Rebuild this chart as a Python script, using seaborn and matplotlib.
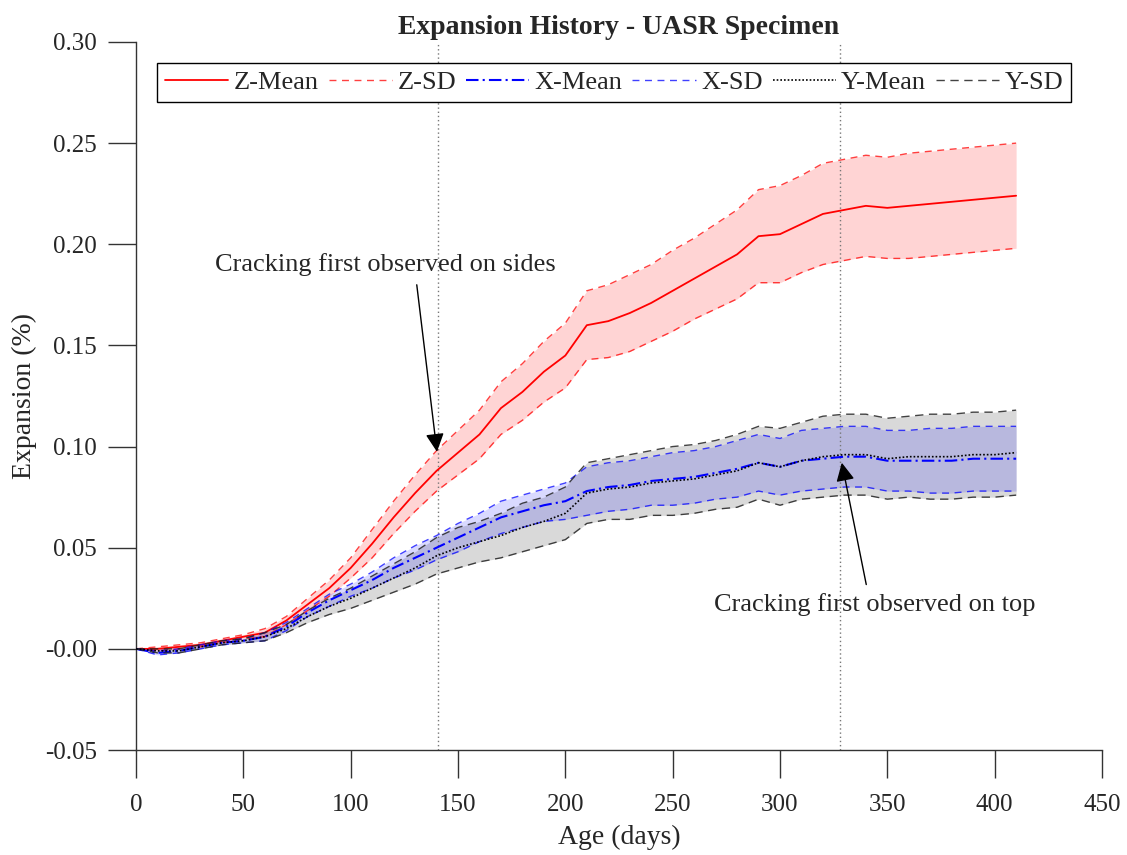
import numpy as np
import pandas as pd
import seaborn as sns
import matplotlib
matplotlib.use("Agg")
import matplotlib.pyplot as plt

days = list(range(0, 420, 10))

z_mean = [0.000, 0.000, 0.001, 0.002, 0.004, 0.006, 0.008, 0.014, 0.022, 0.030,
          0.040, 0.052, 0.065, 0.077, 0.088, 0.097, 0.106, 0.119, 0.127, 0.137,
          0.145, 0.160, 0.162, 0.166, 0.171, 0.177, 0.183, 0.189, 0.195, 0.204,
          0.205, 0.210, 0.215, 0.217, 0.219, 0.218, 0.219, 0.220, 0.221, 0.222,
          0.223, 0.224]
z_sd = [0.000, 0.001, 0.001, 0.001, 0.001, 0.001, 0.002, 0.002, 0.003, 0.004,
        0.005, 0.007, 0.008, 0.009, 0.010, 0.011, 0.012, 0.013, 0.014, 0.015,
        0.016, 0.017, 0.018, 0.019, 0.019, 0.020, 0.020, 0.021, 0.022, 0.023,
        0.024, 0.024, 0.025, 0.025, 0.025, 0.025, 0.026, 0.026, 0.026, 0.026,
        0.026, 0.026]
x_mean = [0.000, -0.002, -0.001, 0.001, 0.003, 0.004, 0.006, 0.011, 0.018, 0.024,
          0.029, 0.034, 0.040, 0.045, 0.050, 0.055, 0.060, 0.065, 0.068, 0.071,
          0.073, 0.078, 0.080, 0.081, 0.083, 0.084, 0.085, 0.087, 0.089, 0.092,
          0.090, 0.093, 0.094, 0.095, 0.095, 0.093, 0.093, 0.093, 0.093, 0.094,
          0.094, 0.094]
x_sd = [0.000, 0.001, 0.001, 0.001, 0.001, 0.001, 0.002, 0.002, 0.002, 0.003,
        0.003, 0.004, 0.005, 0.006, 0.006, 0.007, 0.007, 0.008, 0.008, 0.008,
        0.009, 0.012, 0.012, 0.012, 0.012, 0.013, 0.013, 0.013, 0.014, 0.014,
        0.014, 0.015, 0.015, 0.015, 0.015, 0.015, 0.015, 0.016, 0.016, 0.016,
        0.016, 0.016]
y_mean = [0.000, -0.001, -0.001, 0.001, 0.003, 0.004, 0.006, 0.010, 0.016, 0.021,
          0.025, 0.030, 0.035, 0.040, 0.046, 0.050, 0.053, 0.056, 0.060, 0.063,
          0.067, 0.077, 0.079, 0.080, 0.082, 0.083, 0.084, 0.086, 0.088, 0.092,
          0.090, 0.093, 0.095, 0.096, 0.096, 0.094, 0.095, 0.095, 0.095, 0.096,
          0.096, 0.097]
y_sd = [0.000, 0.001, 0.001, 0.001, 0.001, 0.001, 0.002, 0.002, 0.003, 0.004,
        0.005, 0.006, 0.007, 0.008, 0.009, 0.010, 0.010, 0.011, 0.012, 0.012,
        0.013, 0.015, 0.015, 0.016, 0.016, 0.017, 0.017, 0.017, 0.018, 0.018,
        0.019, 0.019, 0.020, 0.020, 0.020, 0.020, 0.020, 0.021, 0.021, 0.021,
        0.021, 0.021]

x_ticks = [0, 50, 100, 150, 200, 250, 300, 350, 400, 450]
y_ticks = [-0.05, 0.00, 0.05, 0.10, 0.15, 0.20, 0.25, 0.30]
y_tick_labels = ["-0.05", "-0.00", "0.05", "0.10", "0.15", "0.20", "0.25", "0.30"]

crack_days = [140.7, 327.9]
side_label = "Cracking first observed on sides"
top_label = "Cracking first observed on top"

sns.set_theme(style="ticks")
plt.rcParams['font.family'] = ['Liberation Serif', 'DejaVu Serif']

fig = plt.figure(figsize=(11.27, 8.55), dpi=100)
ax = fig.add_axes([0.1207, 0.1228, 0.8571, 0.8281])

d = np.array(days, dtype=float)
zm, zs = np.array(z_mean), np.array(z_sd)
xm, xs = np.array(x_mean), np.array(x_sd)
ym, ys = np.array(y_mean), np.array(y_sd)

# bands
ax.fill_between(d, ym - ys, ym + ys, color=(0.85, 0.85, 0.85), lw=0, zorder=1)
ax.fill_between(d, xm - xs, xm + xs, color='blue', alpha=0.15, lw=0, zorder=1.1)
ax.fill_between(d, zm - zs, zm + zs, color='red', alpha=0.17, lw=0, zorder=1.2)

# crack lines
for cd in crack_days:
    ax.axvline(cd, color='#777777', ls=(0, (1, 2)), lw=1.0, zorder=1.5)

# lines
sns.lineplot(x=d, y=zm, ax=ax, color='red', lw=1.3, label='Z-Mean', zorder=3)
sns.lineplot(x=d, y=zm + zs, ax=ax, color='red', alpha=0.75, lw=1.0, label='Z-SD', zorder=3)
sns.lineplot(x=d, y=zm - zs, ax=ax, color='red', alpha=0.75, lw=1.0, label='_nolegend_', zorder=3)
sns.lineplot(x=d, y=xm, ax=ax, color='blue', lw=1.5, label='X-Mean', zorder=3)
sns.lineplot(x=d, y=xm + xs, ax=ax, color='blue', alpha=0.75, lw=1.0, label='X-SD', zorder=3)
sns.lineplot(x=d, y=xm - xs, ax=ax, color='blue', alpha=0.75, lw=1.0, label='_nolegend_', zorder=3)
sns.lineplot(x=d, y=ym, ax=ax, color='black', lw=1.2, label='Y-Mean', zorder=3.1)
sns.lineplot(x=d, y=ym + ys, ax=ax, color='#222222', alpha=0.85, lw=1.0, label='Y-SD', zorder=3)
sns.lineplot(x=d, y=ym - ys, ax=ax, color='#222222', alpha=0.85, lw=1.0, label='_nolegend_', zorder=3)

order = [0, 1, 1, 2, 3, 3, 4, 5, 5]
lines = ax.get_lines()[2:]
style_map = ['-', (0, (5, 4)), (0, (6, 2, 1, 2)), (0, (5, 4)), (0, (1, 1.2)), (0, (6, 4))]
for ln, o in zip(lines, order):
    ln.set_linestyle(style_map[o])

ax.set_xlim(0, 450)
ax.set_ylim(-0.05, 0.30)
ax.set_xticks(x_ticks)
ax.set_yticks(y_ticks)
ax.set_yticklabels(y_tick_labels)
ax.tick_params(direction='out', length=20, width=1.0, labelsize=18, color='#333333')
ax.tick_params(axis='x', pad=12)
ax.tick_params(axis='y', pad=8)
for s in ['top', 'right']:
    ax.spines[s].set_visible(False)
for s in ['left', 'bottom']:
    ax.spines[s].set_color('#333333')
    ax.spines[s].set_linewidth(1.0)

ax.set_xlabel('Age (days)', fontsize=20, labelpad=6)
ax.set_ylabel('Expansion (%)', fontsize=20, labelpad=6)
ax.set_title('Expansion History - UASR Specimen', fontsize=20, fontweight='bold', pad=6)

leg = ax.legend(loc='upper center', bbox_to_anchor=(0.495, 0.978), ncol=6, fontsize=19,
                frameon=True, fancybox=False, edgecolor='black', framealpha=1,
                handlelength=2.4, columnspacing=0.38, handletextpad=0.2,
                borderpad=0.3, borderaxespad=0.2)
leg.get_frame().set_linewidth(1.0)

ax.annotate(side_label, xy=(140.2, 0.0974), xytext=(116, 0.190), fontsize=19,
            ha='center', va='center',
            arrowprops=dict(arrowstyle='-|>', color='black', lw=1.0,
                            mutation_scale=28, shrinkA=4, shrinkB=0,
                            relpos=(0.59, 0.0)))
ax.annotate(top_label, xy=(328.8, 0.092), xytext=(344, 0.0218), fontsize=19,
            ha='center', va='center',
            arrowprops=dict(arrowstyle='-|>', color='black', lw=1.0,
                            mutation_scale=28, shrinkA=4, shrinkB=0,
                            relpos=(0.48, 1.0)))

fig.savefig('out.png', dpi=100)
